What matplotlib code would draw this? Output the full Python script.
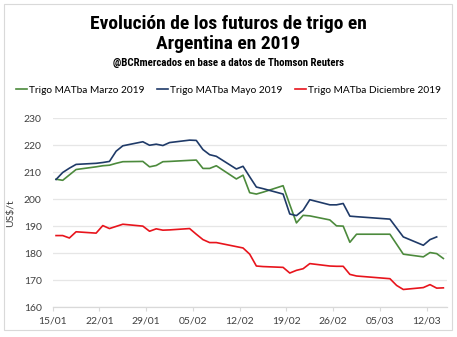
import numpy as np
import pandas as pd
import matplotlib
matplotlib.use("Agg")
import matplotlib.pyplot as plt
import matplotlib.dates as mdates
from matplotlib.patches import Rectangle
from matplotlib import font_manager

# Trading days (no data on the Carnival holidays, 4-5 March)
dates = ["2019-01-15", "2019-01-16", "2019-01-17", "2019-01-18",
         "2019-01-21", "2019-01-22", "2019-01-23", "2019-01-24", "2019-01-25",
         "2019-01-28", "2019-01-29", "2019-01-30", "2019-01-31", "2019-02-01",
         "2019-02-04", "2019-02-05", "2019-02-06", "2019-02-07", "2019-02-08",
         "2019-02-11", "2019-02-12", "2019-02-13", "2019-02-14", "2019-02-15",
         "2019-02-18", "2019-02-19", "2019-02-20", "2019-02-21", "2019-02-22",
         "2019-02-25", "2019-02-26", "2019-02-27", "2019-02-28", "2019-03-01",
         "2019-03-06", "2019-03-07", "2019-03-08",
         "2019-03-11", "2019-03-12", "2019-03-13", "2019-03-14"]

# Prices in US$/t
marzo = [207.4, 207.0, 209.0, 211.0,
         212.0, 212.4, 212.6, 213.3, 213.9,
         214.0, 212.0, 212.5, 213.9, 214.0,
         214.4, 214.5, 211.4, 211.4, 212.4,
         207.5, 208.9, 202.4, 201.9, 202.6,
         205.0, 198.0, 191.2, 194.0, 193.8,
         192.3, 190.1, 190.0, 184.0, 187.0,
         187.0, 183.3, 179.6,
         178.6, 180.2, 179.8, 178.0]

mayo = [207.3, 209.9, 211.5, 212.9,
        213.3, 213.6, 214.0, 217.8, 219.8,
        221.3, 220.0, 220.4, 219.9, 221.0,
        221.9, 221.8, 218.4, 216.5, 215.9,
        211.2, 212.2, 208.3, 204.5, 203.9,
        201.9, 194.5, 193.9, 195.9, 199.8,
        197.9, 197.9, 198.4, 193.7, 193.5,
        192.6, 189.3, 186.0,
        182.9, 185.0, 186.0, np.nan]

diciembre = [186.5, 186.5, 185.6, 187.9,
             187.4, 190.2, 189.1, 189.9, 190.7,
             190.0, 188.1, 189.0, 188.5, 188.6,
             189.1, 187.0, 185.0, 183.9, 183.9,
             182.4, 181.9, 179.6, 175.2, 175.0,
             174.7, 172.6, 173.6, 174.2, 176.1,
             175.2, 175.1, 175.1, 172.1, 171.5,
             170.5, 168.0, 166.5,
             167.2, 168.3, 167.0, 167.1]

series_labels = ["Trigo MATba Marzo 2019", "Trigo MATba Mayo 2019",
                 "Trigo MATba Diciembre 2019"]
series_colors = ["#4c8a3c", "#1f3a68", "#e8141c"]

y_ticks = [160, 170, 180, 190, 200, 210, 220, 230]

title = "Evolución de los futuros de trigo en\nArgentina en 2019"
subtitle = "@BCRmercados en base a datos de Thomson Reuters"

W, H = 457, 337
fig = plt.figure(figsize=(W / 100, H / 100), dpi=100)

available = {f.name for f in font_manager.fontManager.ttflist}
body_font = ["Lato", "DejaVu Sans"]
title_font = [f for f in ["DejaVu Sans Condensed", "Roboto Condensed",
                          "Roboto", "DejaVu Sans"] if f in available]
cond = title_font[0] == "DejaVu Sans Condensed"

# outer frame
fig.add_artist(Rectangle((4 / W, 1 - 330 / H), 448 / W, 326 / H,
                         transform=fig.transFigure, fill=False,
                         edgecolor="#d9d9d9", linewidth=0.8))

fig.text(0.5, 1 - 34 / H, title, ha="center", va="center",
         fontsize=13.5 if cond else 14, fontweight="bold", family=title_font,
         linespacing=1.15, color="black")
fig.text(0.5, 1 - 63 / H, subtitle, ha="center", va="center",
         fontsize=7.2 if cond else 7.8, fontweight="bold", family=title_font,
         color="black")

left, right, top, bottom = 52.7, 446.7, 118.3, 307.0
ax = fig.add_axes([left / W, 1 - bottom / H, (right - left) / W,
                   (bottom - top) / H])

x = pd.to_datetime(dates) + pd.Timedelta(hours=12)
for vals, lab, col in zip([marzo, mayo, diciembre], series_labels,
                          series_colors):
    ax.plot(x, vals, color=col, linewidth=1.2, label=lab,
            solid_joinstyle="round")

ax.set_xlim(pd.Timestamp("2019-01-15"), pd.Timestamp("2019-03-15"))
ax.set_ylim(160, 230)
ax.set_yticks(y_ticks)
ax.set_xticks(pd.date_range("2019-01-15", "2019-03-15", freq="7D"))
ax.xaxis.set_major_formatter(mdates.DateFormatter("%d/%m"))

ax.grid(axis="y", color="#e6e6e6", linewidth=0.9)
ax.set_axisbelow(True)
for s in ["top", "right", "left"]:
    ax.spines[s].set_visible(False)
ax.spines["bottom"].set_color("#d9d9d9")
ax.spines["bottom"].set_linewidth(0.9)
ax.tick_params(axis="y", length=0, pad=8, labelsize=7.5, labelcolor="#404040")
ax.tick_params(axis="x", length=3, color="#d9d9d9", pad=4, labelsize=7.5,
               labelcolor="#404040")
for lbl in ax.get_xticklabels() + ax.get_yticklabels():
    lbl.set_family(body_font)

ax.set_ylabel("US$/t", fontsize=7.5, color="#404040", family=body_font,
              labelpad=6)

fig.legend(loc="center", bbox_to_anchor=(0.5, 1 - 90 / H), ncol=3,
           frameon=False, handlelength=1.1, handletextpad=0.2,
           columnspacing=1.2, prop={"family": body_font, "size": 7.3})

fig.savefig("out.png", dpi=100)
